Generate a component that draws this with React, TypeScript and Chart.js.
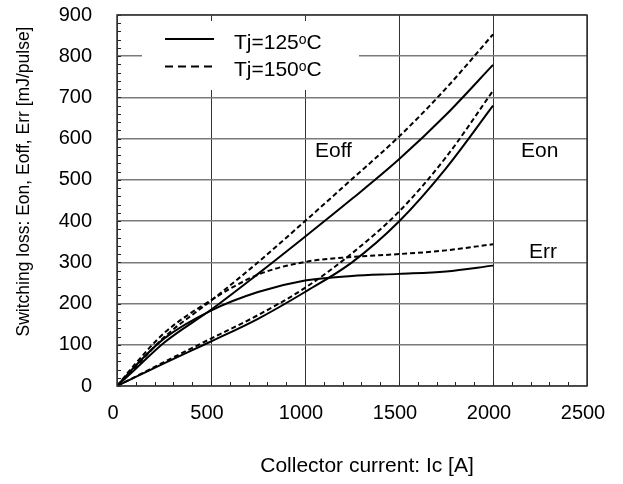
import React, { useEffect, useRef } from 'react';
import { Chart, registerables } from 'chart.js';

Chart.register(...registerables);

// ---- data ----
const currents = [0, 100, 250, 500, 750, 1000, 1250, 1500, 1750, 2000];
const eoff125 = [0, 42, 105, 185, 272, 362, 454, 550, 658, 779];
const eoff150 = [0, 47, 118, 207, 300, 400, 502, 605, 722, 853];
const eon125 = [0, 22, 55, 108, 163, 228, 300, 399, 528, 680];
const eon150 = [0, 23, 58, 115, 172, 238, 322, 423, 555, 716];
const err125 = [0, 50, 115, 183, 228, 256, 267, 272, 278, 292];
const err150 = [0, 55, 128, 208, 270, 301, 313, 320, 329, 344];

const xMin = 0;
const xMax = 2500;
const xStep = 500;
const xMinorStep = 100;
const yMin = 0;
const yMax = 900;
const yStep = 100;
const yMinorStep = 20;

const legendMain = ['Tj=125', 'Tj=150'];
const legendSup = 'o';
const legendUnit = 'C';
const curveNames = ['Eoff', 'Eon', 'Err'];
const curveNamePos = [
  [1053, 570],
  [2149, 570],
  [2191, 325],
];
const xTitle = 'Collector current: Ic [A]';
const yTitle = 'Switching loss: Eon, Eoff, Err [mJ/pulse]';

const FONT = "'Liberation Sans', Arial, Helvetica, sans-serif";

const pts = (ys: number[]) => currents.map((x, i) => ({ x, y: ys[i] }));

const overlay = {
  id: 'overlay',
  beforeDatasetsDraw(chart: any) {
    const { ctx, chartArea: a, scales } = chart;
    const x = scales.x;
    const y = scales.y;
    ctx.save();
    // minor ticks
    ctx.strokeStyle = '#222';
    ctx.lineWidth = 1;
    ctx.beginPath();
    for (let v = xMin; v <= xMax; v += xMinorStep) {
      const px = Math.round(x.getPixelForValue(v)) + 0.5;
      ctx.moveTo(px, a.bottom);
      ctx.lineTo(px, a.bottom - 4);
    }
    for (let v = yMin; v <= yMax; v += yMinorStep) {
      const py = Math.round(y.getPixelForValue(v)) + 0.5;
      ctx.moveTo(a.left, py);
      ctx.lineTo(a.left + 4, py);
    }
    ctx.stroke();

    // legend box
    const lx = a.left + 25;
    const ly = a.top + 6;
    ctx.fillStyle = '#fff';
    ctx.fillRect(lx, ly, 217, 69);
    const rows = [a.top + 24, a.top + 51.5];
    ctx.strokeStyle = '#000';
    ctx.lineWidth = 2;
    rows.forEach((ry, i) => {
      ctx.setLineDash(i === 0 ? [] : [8, 5]);
      ctx.beginPath();
      ctx.moveTo(a.left + 48, ry);
      ctx.lineTo(a.left + 97, ry);
      ctx.stroke();
    });
    ctx.setLineDash([]);
    ctx.fillStyle = '#000';
    ctx.textBaseline = 'alphabetic';
    ctx.textAlign = 'left';
    rows.forEach((ry, i) => {
      const base = ry + 9.5;
      let tx = a.left + 117;
      ctx.font = `21px ${FONT}`;
      ctx.fillText(legendMain[i], tx, base);
      tx += ctx.measureText(legendMain[i]).width;
      ctx.font = `14px ${FONT}`;
      ctx.fillText(legendSup, tx, base - 5);
      tx += ctx.measureText(legendSup).width;
      ctx.font = `21px ${FONT}`;
      ctx.fillText(legendUnit, tx, base);
    });
    ctx.restore();
  },
  afterDatasetsDraw(chart: any) {
    const { ctx, chartArea: a, scales } = chart;
    ctx.save();
    // frame
    ctx.strokeStyle = '#333';
    ctx.lineWidth = 1.5;
    ctx.strokeRect(a.left, a.top, a.right - a.left, a.bottom - a.top);
    // curve names
    ctx.fillStyle = '#000';
    ctx.font = `21px ${FONT}`;
    ctx.textAlign = 'left';
    ctx.textBaseline = 'middle';
    curveNames.forEach((n, i) => {
      ctx.fillText(n, scales.x.getPixelForValue(curveNamePos[i][0]), scales.y.getPixelForValue(curveNamePos[i][1]));
    });
    // axis titles
    ctx.textAlign = 'center';
    ctx.font = `21px ${FONT}`;
    ctx.fillText(xTitle, (a.left + a.right) / 2 + 15, a.bottom + 80);
    ctx.translate(a.left - 93, (a.top + a.bottom) / 2 - 19);
    ctx.rotate(-Math.PI / 2);
    ctx.font = `17.5px ${FONT}`;
    ctx.fillText(yTitle, 0, 0);
    ctx.restore();
  },
};

const noPad = (s: any) => {
  s.paddingTop = 0;
  s.paddingBottom = 0;
  s.paddingLeft = 0;
  s.paddingRight = 0;
};

export default function App() {
  const ref = useRef<HTMLCanvasElement>(null);
  useEffect(() => {
    if (!ref.current) return;
    const line = (data: number[], dashed: boolean) => ({
      data: pts(data),
      borderColor: '#000',
      borderWidth: 2,
      borderDash: dashed ? [5, 3] : [],
      pointRadius: 0,
      fill: false,
      cubicInterpolationMode: 'monotone' as const,
    });
    const chart = new Chart(ref.current, {
      type: 'line',
      data: {
        datasets: [
          line(eoff125, false),
          line(eoff150, true),
          line(eon125, false),
          line(eon150, true),
          line(err125, false),
          line(err150, true),
        ],
      },
      options: {
        animation: false,
        responsive: false,
        devicePixelRatio: 1,
        layout: { padding: { top: 15, right: 36, left: 0, bottom: 0 } },
        plugins: { legend: { display: false }, tooltip: { enabled: false } },
        scales: {
          x: {
            type: 'linear',
            min: xMin,
            max: xMax,
            afterFit: (s: any) => {
              s.height = 98;
              noPad(s);
            },
            ticks: {
              stepSize: xStep,
              color: '#000',
              font: { family: FONT, size: 20 },
              padding: 15,
              labelOffset: -4,
              maxRotation: 0,
              callback: (v: any) => String(v),
            },
            grid: { color: '#333', lineWidth: 1, drawTicks: false },
            border: { display: false },
          },
          y: {
            type: 'linear',
            min: yMin,
            max: yMax,
            afterFit: (s: any) => {
              s.width = 117;
              noPad(s);
            },
            ticks: {
              stepSize: yStep,
              color: '#000',
              font: { family: FONT, size: 20 },
              padding: 25,
              callback: (v: any) => String(v),
            },
            grid: { color: '#7a7a7a', lineWidth: 1.5, drawTicks: false },
            border: { display: false },
          },
        },
      },
      plugins: [overlay],
    });
    return () => chart.destroy();
  }, []);
  return (
    <div style={{ position: 'fixed', left: 0, top: 0, width: 623, height: 484, background: '#fff' }}>
      <canvas ref={ref} width={623} height={484} style={{ display: 'block' }} />
    </div>
  );
}
